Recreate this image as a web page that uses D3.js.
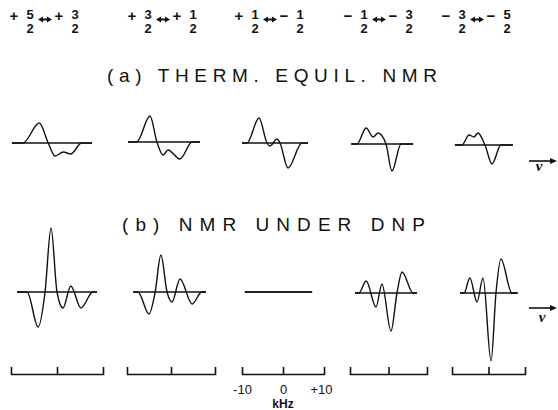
<!DOCTYPE html>
<html>
<head>
<meta charset="utf-8">
<script src="https://cdn.jsdelivr.net/npm/d3@7"></script>
<style>
body { margin: 0; background: #fff; }
svg { display: block; }
</style>
</head>
<body>
<script>
// transition labels (sign, numerator) for each panel, denominators are all 2
var fromSign = ["+", "+", "+", "\u2212", "\u2212"];
var fromNum = ["5", "3", "1", "1", "3"];
var toSign = ["+", "+", "\u2212", "\u2212", "\u2212"];
var toNum = ["3", "1", "1", "3", "5"];

// (a) thermal equilibrium spectra: frequency offset (kHz) and signal
var thermKhz = [
	[-9.8, -7.4, -3.85, -1.9, -0.43, 1.37, 2.98, 5.37, 7.6],
	[-9.77, -7.8, -4.77, -3.2, -1.8, -0.68, 2.05, 4.77, 6.6],
	[-10, -8.8, -5.85, -3.9, -3.2, -1.46, -0.73, 1.22, 4.63, 6.1],
	[-9.7, -8.2, -5.8, -4.0, -2.7, -0.65, 0.9, 3.25, 6.4],
	[-9.2, -7.3, -5.3, -4.0, -2.9, -0.96, 0.96, 3.4, 6.7]
];
var thermAmp = [
	[0, 0, 20, 0, -13, -9, -11, 0, 0],
	[0, 0, 26, 0, -13, -8, -17, 0, 0],
	[0, 0, 25, 0, -3, 4, 0, -25, 0, 0],
	[0, 0, 16, 7, 11, 0, -27, 0, 0],
	[0, 0, 10, 8, 12, 0, -19, 0, 0]
];

// (b) spectra under DNP
var dnpKhz = [
	[-8.7, -6.5, -4.1, -2.6, -1.3, 0, 1.3, 3.0, 5.2, 7.8, 8.7],
	[-8.6, -7.5, -5.0, -3.6, -2.3, -0.9, 0.23, 2.05, 4.8, 7.0, 7.95],
	[-9.3, 7.1],
	[-8.7, -7.7, -5.8, -3.25, -1.7, 0.65, 2.2, 3.5, 6.4, 7.4],
	[-7.8, -6.7, -5.1, -3.15, -1.5, 0.7, 2.05, 3.4, 6.4, 8.0]
];
var dnpAmp = [
	[0, 0, -35, 0, 64, 0, -16, 6, -16, 0, 0],
	[0, 0, -22, 0, 37, 0, -10, 13, -12, 0, 0],
	[0, 0],
	[0, 0, 12, -14, 9, -38, 0, 21, 0, 0],
	[0, 0, 15, -9, 15, -68, 0, 34, 0, 0]
];

var scaleTicks = [-10, 0, 10];
var scaleLabels = ["-10", "0", "+10"];

var width = 558;
var height = 410;

// panel placement
var panelLeft = [11, 127, 242, 350, 452];
var panelRight = [103, 215, 324, 427, 525];
var thermBase = [143, 142, 143, 144, 145];
var dnpBase = [292, 292, 292, 293, 293];
var labelStart = [10, 128, 235, 344, 442];
var bracketY = 374;

var svg = d3.select("body").append("svg")
	.attr("width", width)
	.attr("height", height);

var font = "'Liberation Sans', Arial, sans-serif";

var xScales = panelLeft.map(function(l, i) {
	return d3.scaleLinear().domain([-10, 10]).range([l, panelRight[i]]);
});

function yScale(base) {
	return d3.scaleLinear().domain([-100, 100]).range([base + 100, base - 100]);
}

function drawSpectrum(khz, amp, x, y) {
	var pts = khz.map(function(k, j) { return [k, amp[j]]; });
	svg.append("line")
		.attr("x1", x(khz[0])).attr("x2", x(khz[khz.length - 1]))
		.attr("y1", y(0)).attr("y2", y(0))
		.attr("stroke", "#111").attr("stroke-width", 1.4);
	var line = d3.line()
		.x(function(d) { return x(d[0]); })
		.y(function(d) { return y(d[1]); })
		.curve(d3.curveMonotoneX);
	svg.append("path")
		.attr("d", line(pts))
		.attr("fill", "none")
		.attr("stroke", "#111")
		.attr("stroke-width", 1.4);
}

for (var i = 0; i < 5; i++) {
	drawSpectrum(thermKhz[i], thermAmp[i], xScales[i], yScale(thermBase[i]));
	drawSpectrum(dnpKhz[i], dnpAmp[i], xScales[i], yScale(dnpBase[i]));

	// ±10 kHz bracket under each column
	var axis = d3.axisBottom(xScales[i])
		.tickValues(scaleTicks)
		.tickSizeInner(-6)
		.tickSizeOuter(-7)
		.tickPadding(11)
		.tickFormat(function(d, j) { return i == 2 ? scaleLabels[j] : ""; });
	var g = svg.append("g")
		.attr("transform", "translate(0," + bracketY + ")")
		.call(axis);
	g.select(".domain").attr("stroke", "#111").attr("stroke-width", 1.6);
	g.selectAll(".tick line").attr("stroke", "#111").attr("stroke-width", 1.6)
		.attr("y2", function(d) { return d == 0 ? -7 : 0; });
	g.selectAll(".tick text")
		.attr("font-family", font)
		.attr("font-size", "13px")
		.attr("fill", "#111")
		.attr("x", function(d) { return d == 10 ? -3 : 0; });
}

svg.append("text")
	.attr("x", 283).attr("y", 408)
	.attr("text-anchor", "middle")
	.attr("font-family", font)
	.attr("font-size", "12px")
	.attr("font-weight", "bold")
	.attr("fill", "#111")
	.text("kHz");

// header: transition labels
function doubleArrow(x1, x2, y) {
	svg.append("line")
		.attr("x1", x1 + 4).attr("x2", x2 - 4).attr("y1", y).attr("y2", y)
		.attr("stroke", "#111").attr("stroke-width", 2);
	svg.append("path")
		.attr("d", "M" + x1 + "," + y + "L" + (x1 + 5) + "," + (y - 3) + "L" + (x1 + 5) + "," + (y + 3) + "Z" +
			"M" + x2 + "," + y + "L" + (x2 - 5) + "," + (y - 3) + "L" + (x2 - 5) + "," + (y + 3) + "Z")
		.attr("fill", "#111");
}

function headText(x, y, s, size) {
	svg.append("text")
		.attr("x", x).attr("y", y)
		.attr("text-anchor", "middle")
		.attr("font-family", font)
		.attr("font-size", size)
		.attr("font-weight", "bold")
		.attr("fill", "#111")
		.text(s);
}

labelStart.forEach(function(x0, i) {
	headText(x0 + 4, 21, fromSign[i], "15px");
	headText(x0 + 20, 19, fromNum[i], "13px");
	headText(x0 + 20, 33, "2", "13px");
	doubleArrow(x0 + 28, x0 + 42, 19.5);
	headText(x0 + 49, 21, toSign[i], "15px");
	headText(x0 + 65, 19, toNum[i], "13px");
	headText(x0 + 65, 33, "2", "13px");
});

// row titles
svg.append("text")
	.attr("x", 107).attr("y", 82)
	.attr("textLength", 330).attr("lengthAdjust", "spacing")
	.attr("font-family", font)
	.attr("font-size", "19px")
	.attr("fill", "#111")
	.text("(a) THERM. EQUIL. NMR");

svg.append("text")
	.attr("x", 122).attr("y", 231)
	.attr("textLength", 303).attr("lengthAdjust", "spacing")
	.attr("font-family", font)
	.attr("font-size", "19px")
	.attr("fill", "#111")
	.text("(b) NMR UNDER DNP");

// frequency arrows
[[161, 539, 171], [308, 542, 322]].forEach(function(a) {
	svg.append("line")
		.attr("x1", 529).attr("x2", 552).attr("y1", a[0]).attr("y2", a[0])
		.attr("stroke", "#111").attr("stroke-width", 1.6);
	svg.append("path")
		.attr("d", "M557," + a[0] + "L550," + (a[0] - 3) + "L550," + (a[0] + 3) + "Z")
		.attr("fill", "#111");
	svg.append("text")
		.attr("x", a[1]).attr("y", a[2])
		.attr("text-anchor", "middle")
		.attr("font-family", "'Liberation Serif', serif")
		.attr("font-style", "italic")
		.attr("font-weight", "bold")
		.attr("font-size", "15px")
		.attr("fill", "#111")
		.text("\u03bd");
});
</script>
</body>
</html>
